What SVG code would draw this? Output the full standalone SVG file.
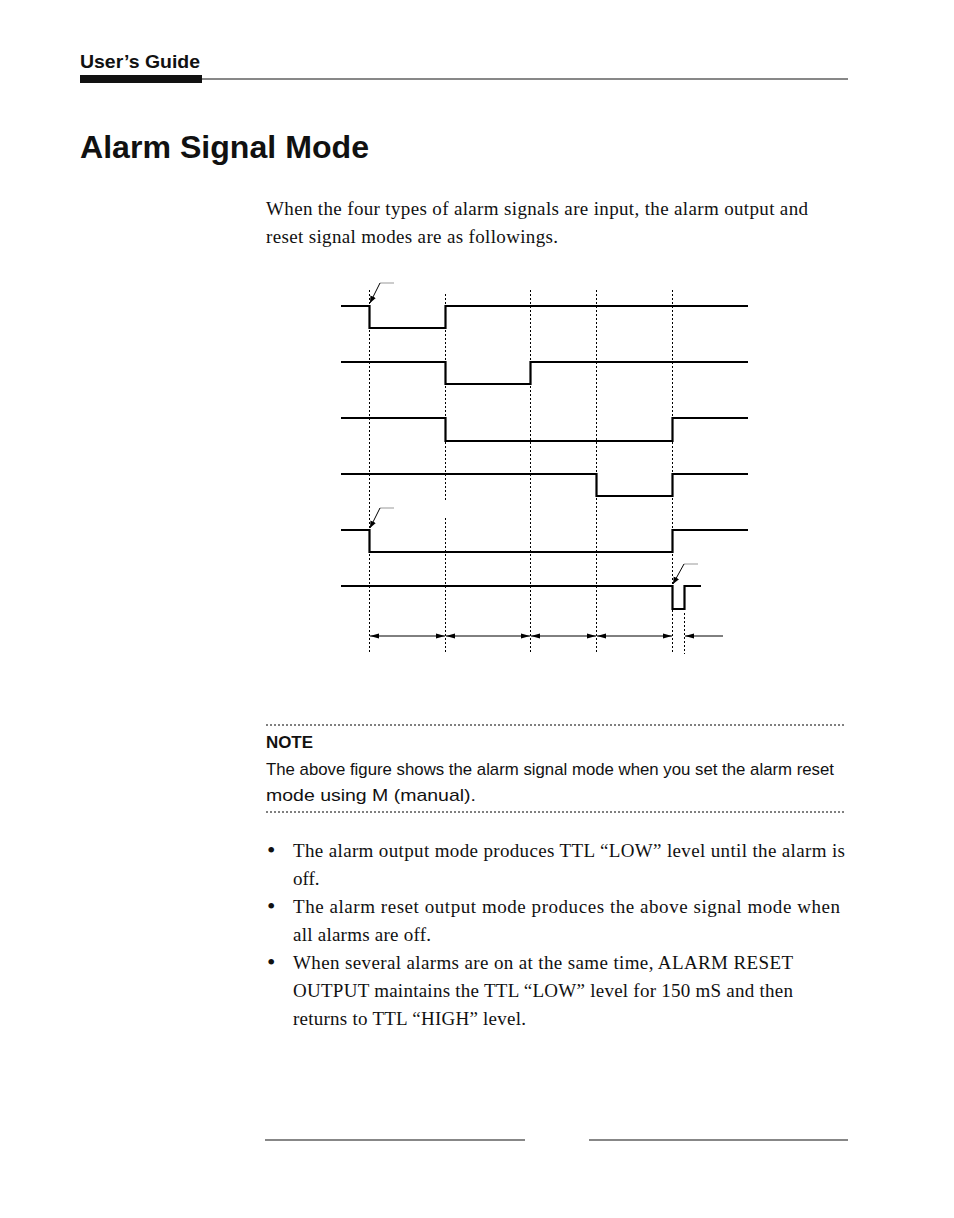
<svg xmlns="http://www.w3.org/2000/svg" width="954" height="1218" viewBox="0 0 954 1218">
<style>
.sig{fill:none;stroke:#000;stroke-width:2.2}
.dot{stroke:#000;stroke-width:1;stroke-dasharray:2,2}
.ar{stroke:#000;stroke-width:1;marker-end:url(#ah)}
.ld{fill:none;stroke:#999;stroke-width:1}
.serif{font-family:"Liberation Serif",serif;font-size:19px;fill:#111}
.sans{font-family:"Liberation Sans",sans-serif;fill:#111}
</style>
<defs>
<marker id="ah" markerWidth="10" markerHeight="6" refX="9" refY="3" orient="auto" markerUnits="userSpaceOnUse"><path d="M0,0.5 L9,3 L0,5.5z" fill="#000"/></marker>
<marker id="lh" markerWidth="8" markerHeight="8" refX="7" refY="3" orient="auto" markerUnits="userSpaceOnUse"><path d="M0,0 L7,3 L0,6z" fill="#000"/></marker>
</defs>
<rect width="954" height="1218" fill="#fff"/>
<g id="header">
<text x="80" y="68" class="sans" font-size="19" font-weight="bold" textLength="120" lengthAdjust="spacingAndGlyphs">User’s Guide</text>
<rect x="80" y="75" width="122" height="8" fill="#111"/>
<line x1="200" y1="79" x2="848" y2="79" stroke="#111" stroke-width="1"/>
</g>
<text x="80" y="158" class="sans" font-size="32" font-weight="bold" textLength="289" lengthAdjust="spacingAndGlyphs">Alarm Signal Mode</text>
<text x="266" y="215" class="serif" textLength="542">When the four types of alarm signals are input, the alarm output and</text>
<text x="266" y="243" class="serif" textLength="292">reset signal modes are as followings.</text>
<g id="timing">
<g id="gridlines">
<line class="dot" x1="369.5" y1="290" x2="369.5" y2="654"/>
<line class="dot" x1="445.5" y1="294" x2="445.5" y2="500"/>
<line class="dot" x1="445.5" y1="518" x2="445.5" y2="654"/>
<line class="dot" x1="530.5" y1="290" x2="530.5" y2="654"/>
<line class="dot" x1="596.5" y1="290" x2="596.5" y2="654"/>
<line class="dot" x1="672.5" y1="290" x2="672.5" y2="654"/>
<line class="dot" x1="684.5" y1="613" x2="684.5" y2="654"/>
</g>
<g id="signals">
<path class="sig" d="M341,306 H369.5 V328 H445.5 V306 H748"/>
<path class="sig" d="M341,362 H445.5 V384 H530.5 V362 H748"/>
<path class="sig" d="M341,418 H445.5 V441 H672.5 V418 H748"/>
<path class="sig" d="M341,474 H596.5 V496 H672.5 V474 H748"/>
<path class="sig" d="M341,530 H369.5 V552 H672.5 V530 H748"/>
<path class="sig" d="M341,586 H672.5 V609 H684.5 V586 H701"/>
</g>
<g id="callouts">
<path class="ld" d="M380,283 H394"/><line x1="380" y1="283" x2="370" y2="303" stroke="#000" stroke-width="1" marker-end="url(#lh)"/>
<path class="ld" d="M380,508 H394"/><line x1="380" y1="508" x2="370" y2="528" stroke="#000" stroke-width="1" marker-end="url(#lh)"/>
<path class="ld" d="M684,564 H698"/><line x1="684" y1="564" x2="673" y2="584" stroke="#000" stroke-width="1" marker-end="url(#lh)"/>
</g>
<g id="connectors">
<line class="ar" x1="407" y1="636" x2="370" y2="636"/><line class="ar" x1="407" y1="636" x2="445" y2="636"/>
<line class="ar" x1="488" y1="636" x2="446" y2="636"/><line class="ar" x1="488" y1="636" x2="530" y2="636"/>
<line class="ar" x1="563" y1="636" x2="531" y2="636"/><line class="ar" x1="563" y1="636" x2="596" y2="636"/>
<line class="ar" x1="634" y1="636" x2="597" y2="636"/><line class="ar" x1="634" y1="636" x2="672" y2="636"/>
<line class="ar" x1="723" y1="636" x2="685" y2="636"/>
</g>
</g>
<g id="note">
<line class="dot" x1="266" y1="725" x2="846" y2="725" stroke-dasharray="1,1.5"/>
<text x="266" y="748" class="sans" font-size="17" font-weight="bold" textLength="47" lengthAdjust="spacingAndGlyphs">NOTE</text>
<text x="266" y="775" class="sans" font-size="17" textLength="568" lengthAdjust="spacingAndGlyphs">The above figure shows the alarm signal mode when you set the alarm reset</text>
<text x="266" y="801" class="sans" font-size="17" textLength="210" lengthAdjust="spacingAndGlyphs">mode using M (manual).</text>
<line class="dot" x1="266" y1="812" x2="846" y2="812" stroke-dasharray="1,1.5"/>
</g>
<g id="bullets" class="serif">
<text x="267" y="858" font-size="24">•</text><text x="293" y="857" textLength="552">The alarm output mode produces TTL “LOW” level until the alarm is</text>
<text x="293" y="885">off.</text>
<text x="267" y="914" font-size="24">•</text><text x="293" y="913" textLength="547">The alarm reset output mode produces the above signal mode when</text>
<text x="293" y="941" textLength="138">all alarms are off.</text>
<text x="267" y="970" font-size="24">•</text><text x="293" y="969" textLength="500">When several alarms are on at the same time, ALARM RESET</text>
<text x="293" y="997" textLength="500">OUTPUT maintains the TTL “LOW” level for 150 mS and then</text>
<text x="293" y="1025" textLength="233">returns to TTL “HIGH” level.</text>
</g>
<g id="footer">
<line x1="265" y1="1140" x2="525" y2="1140" stroke="#111" stroke-width="1.2"/>
<line x1="589" y1="1140" x2="848" y2="1140" stroke="#111" stroke-width="1.2"/>
</g>
</svg>
